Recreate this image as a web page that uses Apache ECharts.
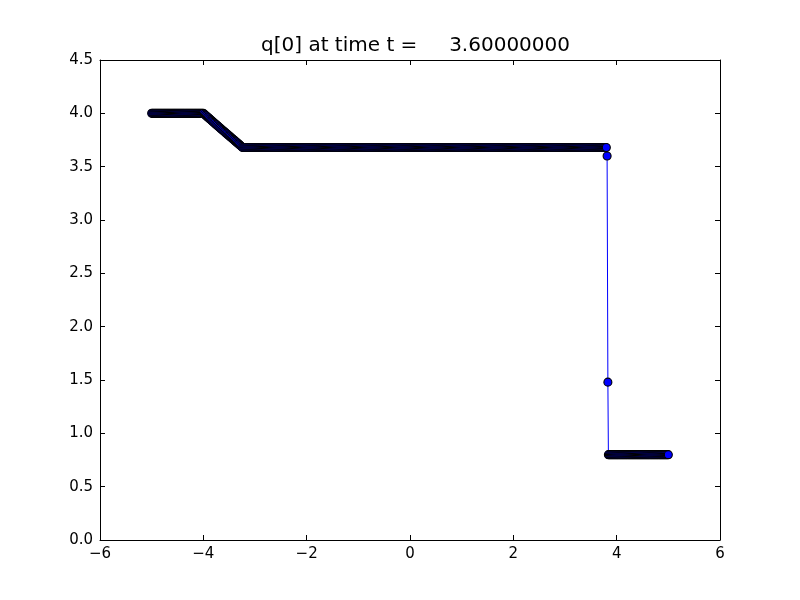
<!DOCTYPE html>
<html>
<head>
<meta charset="utf-8">
<script src="https://cdn.jsdelivr.net/npm/echarts@6/dist/echarts.min.js"></script>
<style>html,body{margin:0;padding:0;background:#fff;}#c{width:800px;height:600px;}</style>
</head>
<body>
<div id="c"></div>
<script>
const titleText = 'q[0] at time t =     3.60000000';
const xTicks = [-6, -4, -2, 0, 2, 4, 6];
const yTicks = [0.0, 0.5, 1.0, 1.5, 2.0, 2.5, 3.0, 3.5, 4.0, 4.5];

// left state
const xLeft = [-5,-4.98,-4.96,-4.94,-4.92,-4.9,-4.88,-4.86,-4.84,-4.82,-4.8,-4.78,-4.76,-4.74,-4.72,-4.7,-4.68,-4.66,-4.64,-4.62,-4.6,-4.58,-4.56,-4.54,-4.52,-4.5,-4.48,-4.46,-4.44,-4.42,-4.4,-4.38,-4.36,-4.34,-4.32,-4.3,-4.28,-4.26,-4.24,-4.22,-4.2,-4.18,-4.16,-4.14,-4.12,-4.1,-4.08,-4.06,-4.04,-4.02,-4];
const yLeft = [4,4,4,4,4,4,4,4,4,4,4,4,4,4,4,4,4,4,4,4,4,4,4,4,4,4,4,4,4,4,4,4,4,4,4,4,4,4,4,4,4,4,4,4,4,4,4,4,4,4,4];
// rarefaction
const xFan = [-3.98,-3.96,-3.94,-3.92,-3.9,-3.88,-3.86,-3.84,-3.82,-3.8,-3.78,-3.76,-3.74,-3.72,-3.7,-3.68,-3.66,-3.64,-3.62,-3.6,-3.58,-3.56,-3.54,-3.52,-3.5,-3.48,-3.46,-3.44,-3.42,-3.4,-3.38,-3.36,-3.34,-3.32,-3.3,-3.28,-3.26,-3.24];
const yFan = [3.992,3.983,3.975,3.966,3.958,3.949,3.941,3.932,3.924,3.915,3.907,3.898,3.890,3.881,3.873,3.864,3.856,3.847,3.839,3.831,3.822,3.814,3.806,3.797,3.789,3.780,3.772,3.764,3.756,3.748,3.739,3.731,3.722,3.714,3.705,3.697,3.688,3.680];
// middle state
const xMid = [-3.22,-3.2,-3.18,-3.16,-3.14,-3.12,-3.1,-3.08,-3.06,-3.04,-3.02,
-3,-2.98,-2.96,-2.94,-2.92,-2.9,-2.88,-2.86,-2.84,-2.82,-2.8,-2.78,-2.76,-2.74,-2.72,-2.7,-2.68,-2.66,-2.64,-2.62,-2.6,-2.58,-2.56,-2.54,-2.52,-2.5,-2.48,-2.46,-2.44,-2.42,-2.4,-2.38,-2.36,-2.34,-2.32,-2.3,-2.28,-2.26,-2.24,-2.22,-2.2,-2.18,-2.16,-2.14,-2.12,-2.1,-2.08,-2.06,-2.04,-2.02,
-2,-1.98,-1.96,-1.94,-1.92,-1.9,-1.88,-1.86,-1.84,-1.82,-1.8,-1.78,-1.76,-1.74,-1.72,-1.7,-1.68,-1.66,-1.64,-1.62,-1.6,-1.58,-1.56,-1.54,-1.52,-1.5,-1.48,-1.46,-1.44,-1.42,-1.4,-1.38,-1.36,-1.34,-1.32,-1.3,-1.28,-1.26,-1.24,-1.22,-1.2,-1.18,-1.16,-1.14,-1.12,-1.1,-1.08,-1.06,-1.04,-1.02,
-1,-0.98,-0.96,-0.94,-0.92,-0.9,-0.88,-0.86,-0.84,-0.82,-0.8,-0.78,-0.76,-0.74,-0.72,-0.7,-0.68,-0.66,-0.64,-0.62,-0.6,-0.58,-0.56,-0.54,-0.52,-0.5,-0.48,-0.46,-0.44,-0.42,-0.4,-0.38,-0.36,-0.34,-0.32,-0.3,-0.28,-0.26,-0.24,-0.22,-0.2,-0.18,-0.16,-0.14,-0.12,-0.1,-0.08,-0.06,-0.04,-0.02,
0,0.02,0.04,0.06,0.08,0.1,0.12,0.14,0.16,0.18,0.2,0.22,0.24,0.26,0.28,0.3,0.32,0.34,0.36,0.38,0.4,0.42,0.44,0.46,0.48,0.5,0.52,0.54,0.56,0.58,0.6,0.62,0.64,0.66,0.68,0.7,0.72,0.74,0.76,0.78,0.8,0.82,0.84,0.86,0.88,0.9,0.92,0.94,0.96,0.98,
1,1.02,1.04,1.06,1.08,1.1,1.12,1.14,1.16,1.18,1.2,1.22,1.24,1.26,1.28,1.3,1.32,1.34,1.36,1.38,1.4,1.42,1.44,1.46,1.48,1.5,1.52,1.54,1.56,1.58,1.6,1.62,1.64,1.66,1.68,1.7,1.72,1.74,1.76,1.78,1.8,1.82,1.84,1.86,1.88,1.9,1.92,1.94,1.96,1.98,
2,2.02,2.04,2.06,2.08,2.1,2.12,2.14,2.16,2.18,2.2,2.22,2.24,2.26,2.28,2.3,2.32,2.34,2.36,2.38,2.4,2.42,2.44,2.46,2.48,2.5,2.52,2.54,2.56,2.58,2.6,2.62,2.64,2.66,2.68,2.7,2.72,2.74,2.76,2.78,2.8,2.82,2.84,2.86,2.88,2.9,2.92,2.94,2.96,2.98,
3,3.02,3.04,3.06,3.08,3.1,3.12,3.14,3.16,3.18,3.2,3.22,3.24,3.26,3.28,3.3,3.32,3.34,3.36,3.38,3.4,3.42,3.44,3.46,3.48,3.5,3.52,3.54,3.56,3.58,3.6,3.62,3.64,3.66,3.68,3.7,3.72,3.74,3.76,3.78,3.8];
const yMid = [3.68,3.68,3.68,3.68,3.68,3.68,3.68,3.68,3.68,3.68,3.68,
3.68,3.68,3.68,3.68,3.68,3.68,3.68,3.68,3.68,3.68, 3.68,3.68,3.68,3.68,3.68,3.68,3.68,3.68,3.68,3.68, 3.68,3.68,3.68,3.68,3.68,3.68,3.68,3.68,3.68,3.68, 3.68,3.68,3.68,3.68,3.68,3.68,3.68,3.68,3.68,3.68, 3.68,3.68,3.68,3.68,3.68,3.68,3.68,3.68,3.68,3.68,
3.68,3.68,3.68,3.68,3.68,3.68,3.68,3.68,3.68,3.68, 3.68,3.68,3.68,3.68,3.68,3.68,3.68,3.68,3.68,3.68, 3.68,3.68,3.68,3.68,3.68,3.68,3.68,3.68,3.68,3.68, 3.68,3.68,3.68,3.68,3.68,3.68,3.68,3.68,3.68,3.68, 3.68,3.68,3.68,3.68,3.68,3.68,3.68,3.68,3.68,3.68,
3.68,3.68,3.68,3.68,3.68,3.68,3.68,3.68,3.68,3.68, 3.68,3.68,3.68,3.68,3.68,3.68,3.68,3.68,3.68,3.68, 3.68,3.68,3.68,3.68,3.68,3.68,3.68,3.68,3.68,3.68, 3.68,3.68,3.68,3.68,3.68,3.68,3.68,3.68,3.68,3.68, 3.68,3.68,3.68,3.68,3.68,3.68,3.68,3.68,3.68,3.68,
3.68,3.68,3.68,3.68,3.68,3.68,3.68,3.68,3.68,3.68, 3.68,3.68,3.68,3.68,3.68,3.68,3.68,3.68,3.68,3.68, 3.68,3.68,3.68,3.68,3.68,3.68,3.68,3.68,3.68,3.68, 3.68,3.68,3.68,3.68,3.68,3.68,3.68,3.68,3.68,3.68, 3.68,3.68,3.68,3.68,3.68,3.68,3.68,3.68,3.68,3.68,
3.68,3.68,3.68,3.68,3.68,3.68,3.68,3.68,3.68,3.68, 3.68,3.68,3.68,3.68,3.68,3.68,3.68,3.68,3.68,3.68, 3.68,3.68,3.68,3.68,3.68,3.68,3.68,3.68,3.68,3.68, 3.68,3.68,3.68,3.68,3.68,3.68,3.68,3.68,3.68,3.68, 3.68,3.68,3.68,3.68,3.68,3.68,3.68,3.68,3.68,3.68,
3.68,3.68,3.68,3.68,3.68,3.68,3.68,3.68,3.68,3.68, 3.68,3.68,3.68,3.68,3.68,3.68,3.68,3.68,3.68,3.68, 3.68,3.68,3.68,3.68,3.68,3.68,3.68,3.68,3.68,3.68, 3.68,3.68,3.68,3.68,3.68,3.68,3.68,3.68,3.68,3.68, 3.68,3.68,3.68,3.68,3.68,3.68,3.68,3.68,3.68,3.68,
3.68,3.68,3.68,3.68,3.68,3.68,3.68,3.68,3.68,3.68, 3.68,3.68,3.68,3.68,3.68,3.68,3.68,3.68,3.68,3.68, 3.68,3.68,3.68,3.68,3.68,3.68,3.68,3.68,3.68,3.68, 3.68,3.68,3.68,3.68,3.68,3.68,3.68,3.68,3.68,3.68, 3.68];
// shock
const xShock = [3.815,3.83];
const yShock = [3.60,1.48];
// right state
const xRight = [3.84,3.86,3.88,3.9,3.92,3.94,3.96,3.98,
4,4.02,4.04,4.06,4.08,4.1,4.12,4.14,4.16,4.18,4.2,4.22,4.24,4.26,4.28,4.3,4.32,4.34,4.36,4.38,4.4,4.42,4.44,4.46,4.48,4.5,4.52,4.54,4.56,4.58,4.6,4.62,4.64,4.66,4.68,4.7,4.72,4.74,4.76,4.78,4.8,4.82,4.84,4.86,4.88,4.9,4.92,4.94,4.96,4.98,5];
const yRight = [0.8,0.8,0.8,0.8,0.8,0.8,0.8,0.8,
0.8,0.8,0.8,0.8,0.8,0.8,0.8,0.8,0.8,0.8, 0.8,0.8,0.8,0.8,0.8,0.8,0.8,0.8,0.8,0.8, 0.8,0.8,0.8,0.8,0.8,0.8,0.8,0.8,0.8,0.8, 0.8,0.8,0.8,0.8,0.8,0.8,0.8,0.8,0.8,0.8, 0.8,0.8,0.8,0.8,0.8,0.8,0.8,0.8,0.8,0.8, 0.8];

const xs = [].concat(xLeft, xFan, xMid, xShock, xRight);
const ys = [].concat(yLeft, yFan, yMid, yShock, yRight);
const data = xs.map((x, i) => [x, ys[i]]);

const font = 'DejaVu Sans';
const fmtX = v => (v < 0 ? '\u2212' + Math.abs(v) : String(v));
const fmtY = v => v.toFixed(1);

function xAx(pos, show) {
  return {
    type: 'value', position: pos, min: xTicks[0], max: xTicks[xTicks.length - 1], interval: 2,
    axisLine: { show: true, onZero: false, lineStyle: { color: '#000', width: 1 } },
    axisTick: { show: true, inside: true, length: 5, lineStyle: { color: '#000', width: 1 } },
    axisLabel: { show: show, color: '#000', fontFamily: font, fontSize: 15, margin: 7, formatter: fmtX },
    splitLine: { show: false }
  };
}
function yAx(pos, show) {
  return {
    type: 'value', position: pos, min: yTicks[0], max: yTicks[yTicks.length - 1], interval: 0.5,
    axisLine: { show: true, onZero: false, lineStyle: { color: '#000', width: 1 } },
    axisTick: { show: true, inside: true, length: 5, lineStyle: { color: '#000', width: 1 } },
    axisLabel: { show: show, color: '#000', fontFamily: font, fontSize: 15, margin: 7, formatter: fmtY },
    splitLine: { show: false }
  };
}

const chart = echarts.init(document.getElementById('c'), null, { renderer: 'canvas' });
chart.setOption({
  animation: false,
  backgroundColor: '#fff',
  title: {
    text: titleText, left: 256, top: 31,
    textStyle: { fontFamily: font, fontSize: 20, fontWeight: 'normal', color: '#000' }
  },
  grid: { left: 100, right: 80, top: 60, bottom: 60, containLabel: false },
  xAxis: [xAx('bottom', true), xAx('top', false)],
  yAxis: [yAx('left', true), yAx('right', false)],
  series: [{
    type: 'line', data: data, xAxisIndex: 0, yAxisIndex: 0,
    symbol: 'circle', symbolSize: 8, showAllSymbol: true,
    lineStyle: { color: '#0000ff', width: 1 },
    itemStyle: { color: '#0000ff', borderColor: '#000', borderWidth: 1.1 },
    emphasis: { disabled: true }
  }]
});
</script>
</body>
</html>
